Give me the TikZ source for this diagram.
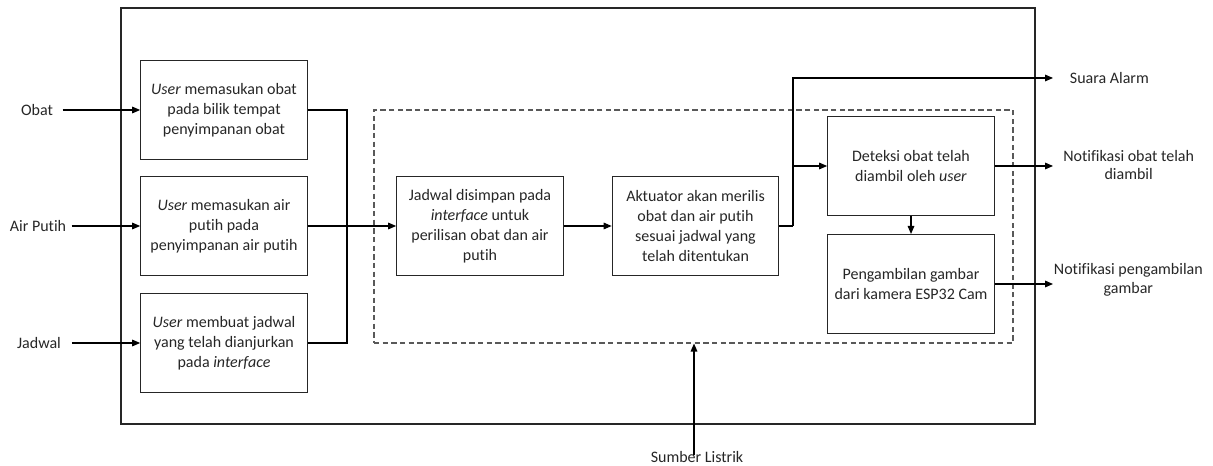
\documentclass[tikz,border=0pt]{standalone}
\usepackage{fontspec}
\setmainfont{Carlito}[Ligatures=NoCommon]
\usetikzlibrary{arrows.meta}
\begin{document}
\begin{tikzpicture}[x=0.75pt,y=-0.75pt,
  every node/.style={text=black!85},
  box/.style={draw=black!85, line width=0.8pt, minimum width=125pt, minimum height=74.25pt,
    align=center, inner sep=0pt, font=\fontsize{12}{15}\selectfont},
  lbl/.style={align=center, inner sep=0pt, font=\fontsize{12}{14}\selectfont},
  ln/.style={line width=0.8pt, draw=black},
  arr/.style={ln, -{Triangle[length=6pt,width=5pt]}}]
\useasboundingbox (0,0) rectangle (1213,466);

% outer system box and dashed group
\node[draw=black!85, line width=0.8pt, minimum width=685.5pt, minimum height=312pt, inner sep=0pt] (sys) at (578,216) {};
\node[draw=black!65, line width=0.8pt, dash pattern=on 4pt off 2.5pt, minimum width=479.25pt, minimum height=174.75pt, inner sep=0pt] (grp) at (693.5,226.5) {};

% input boxes
\node[box] (b1) at (224,110) {\textit{User} memasukan obat\\pada bilik tempat\\penyimpanan obat};
\node[box] (b2) at (224,226) {\textit{User} memasukan air\\putih pada\\penyimpanan air putih};
\node[box] (b3) at (224,343) {\textit{User} membuat jadwal\\yang telah dianjurkan\\pada \textit{interface}};

% inner boxes
\node[box] (A) at (480,226) {Jadwal disimpan pada\\\textit{interface} untuk\\perilisan obat dan air\\putih};
\node[box] (B) at (695.5,226) {Aktuator akan merilis\\obat dan air putih\\sesuai jadwal yang\\telah ditentukan};
\node[box] (D) at (911,166) {Deteksi obat telah\\diambil oleh \textit{user}};
\node[box] (P) at (911,284) {Pengambilan gambar\\dari kamera ESP32 Cam};

% input labels
\node[lbl] (obat) at (37,110) {Obat};
\node[lbl] (air) at (38,226) {Air Putih};
\node[lbl] (jadwal) at (39,343) {Jadwal};
\node[lbl] (sumber) at (697,457) {Sumber Listrik};

% output labels
\node[lbl, anchor=west, inner xsep=12.5pt] (alarm) at (1053,78) {Suara Alarm};
\node[lbl, anchor=west, inner xsep=7.5pt] (n1) at (1053,165) {Notifikasi obat telah\\diambil};
\node[lbl, anchor=west, inner xsep=0.5pt] (n2) at (1053,280) {Notifikasi pengambilan\\gambar};

% junction coordinates
\coordinate (m) at (347,226);
\coordinate (s) at (793,226);

% input arrows
\draw[arr] ([xshift=7pt]obat.east) -- (obat.east -| b1.west);
\draw[arr] ([xshift=4pt]air.east) -- (air.east -| b2.west);
\draw[arr] ([xshift=8pt]jadwal.east) -- (jadwal.east -| b3.west);

% merge
\draw[ln] (b1.east) -| (m);
\draw[ln] (b3.east) -| (m);
\draw[arr] (b2.east) -- (A.west);
\draw[arr] (A.east) -- (B.west);

% split
\draw[ln] (B.east) -- (s);
\draw[arr] (s) |- (alarm.west);
\draw[arr] (s |- D.west) -- (D.west);
\draw[arr] (D.south) -- (P.north);
\draw[arr] (D.east) -- (D.east -| n1.west);
\draw[arr] (P.east) -- (P.east -| n2.west);

% power
\draw[arr] ([xshift=-2.25pt,yshift=-3pt]sumber.north) -- ([xshift=-2.25pt]sumber.north |- grp.south);
\end{tikzpicture}
\end{document}
